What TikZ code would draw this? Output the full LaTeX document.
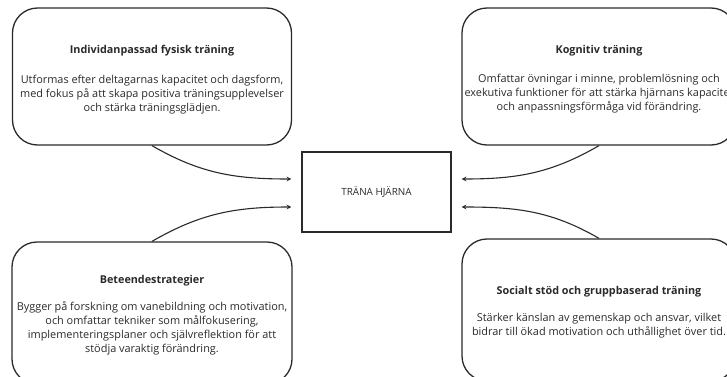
\documentclass[tikz,border=0pt]{standalone}
\usepackage{fontspec}
\setmainfont{Open Sans}
\usepackage{tikz}
\definecolor{ink}{HTML}{2A2A2A}
\newcommand{\cardtitle}[1]{{\fontsize{10.8}{14}\selectfont\bfseries #1}}
\tikzstyle{card} = [rectangle, draw=ink, line width=1.3pt, rounded corners=25pt, align=center, text=ink, inner sep=1pt, font=\fontsize{10.9}{14}\selectfont]
\tikzstyle{hub} = [rectangle, draw=ink, line width=1.3pt, align=center, text=ink, minimum width=149pt, minimum height=80pt, font=\fontsize{9.9}{12}\selectfont]

\begin{document}
\begin{tikzpicture}[x=1pt, y=1pt, >=stealth, line width=1.1pt, draw=ink]
\useasboundingbox (0, 0) rectangle (727, 376);

\node[card, minimum width=279pt, minimum height=137pt] (fys) at (152, 299.5) {\rule{0pt}{14pt}\cardtitle{Individanpassad fysisk träning} \\[16pt] Utformas efter deltagarnas kapacitet och dagsform, \\ med fokus på att skapa positiva träningsupplevelser \\ och stärka träningsglädjen.};
\node[card, minimum width=274pt, minimum height=137pt] (kog) at (599, 299.5) {\rule{0pt}{13pt}\cardtitle{Kognitiv träning} \\[15pt] Omfattar övningar i minne, problemlösning och \\ exekutiva funktioner för att stärka hjärnans kapacitet \\ och anpassningsförmåga vid förändring.};
\node[card, minimum width=280pt, minimum height=142pt] (bet) at (152, 63) {\rule{0pt}{13pt}\cardtitle{Beteendestrategier} \\[13pt] Bygger på forskning om vanebildning och motivation, \\ och omfattar tekniker som målfokusering, \\ implementeringsplaner och självreflektion för att \\ stödja varaktig förändring.};
\node[card, minimum width=274pt, minimum height=142pt] (soc) at (599, 66) {\rule{0pt}{13pt}\cardtitle{Socialt stöd och gruppbaserad träning} \\[13pt] Stärker känslan av gemenskap och ansvar, vilket \\ bidrar till ökad motivation och uthållighet över tid.};
\node[hub] (hjarna) at (376.5, 184) {TRÄNA HJÄRNA};

\draw [->] (fys.south) to [out=-30, in=180] ([xshift=-10pt, yshift=13pt]hjarna.west);
\draw [->] (bet.north) to [out=30, in=180] ([xshift=-10pt, yshift=-15pt]hjarna.west);
\draw [->] (kog.south) to [out=-150, in=0] ([xshift=10pt, yshift=13pt]hjarna.east);
\draw [->] (soc.north) to [out=150, in=0] ([xshift=10pt, yshift=-15pt]hjarna.east);

\end{tikzpicture}
\end{document}
